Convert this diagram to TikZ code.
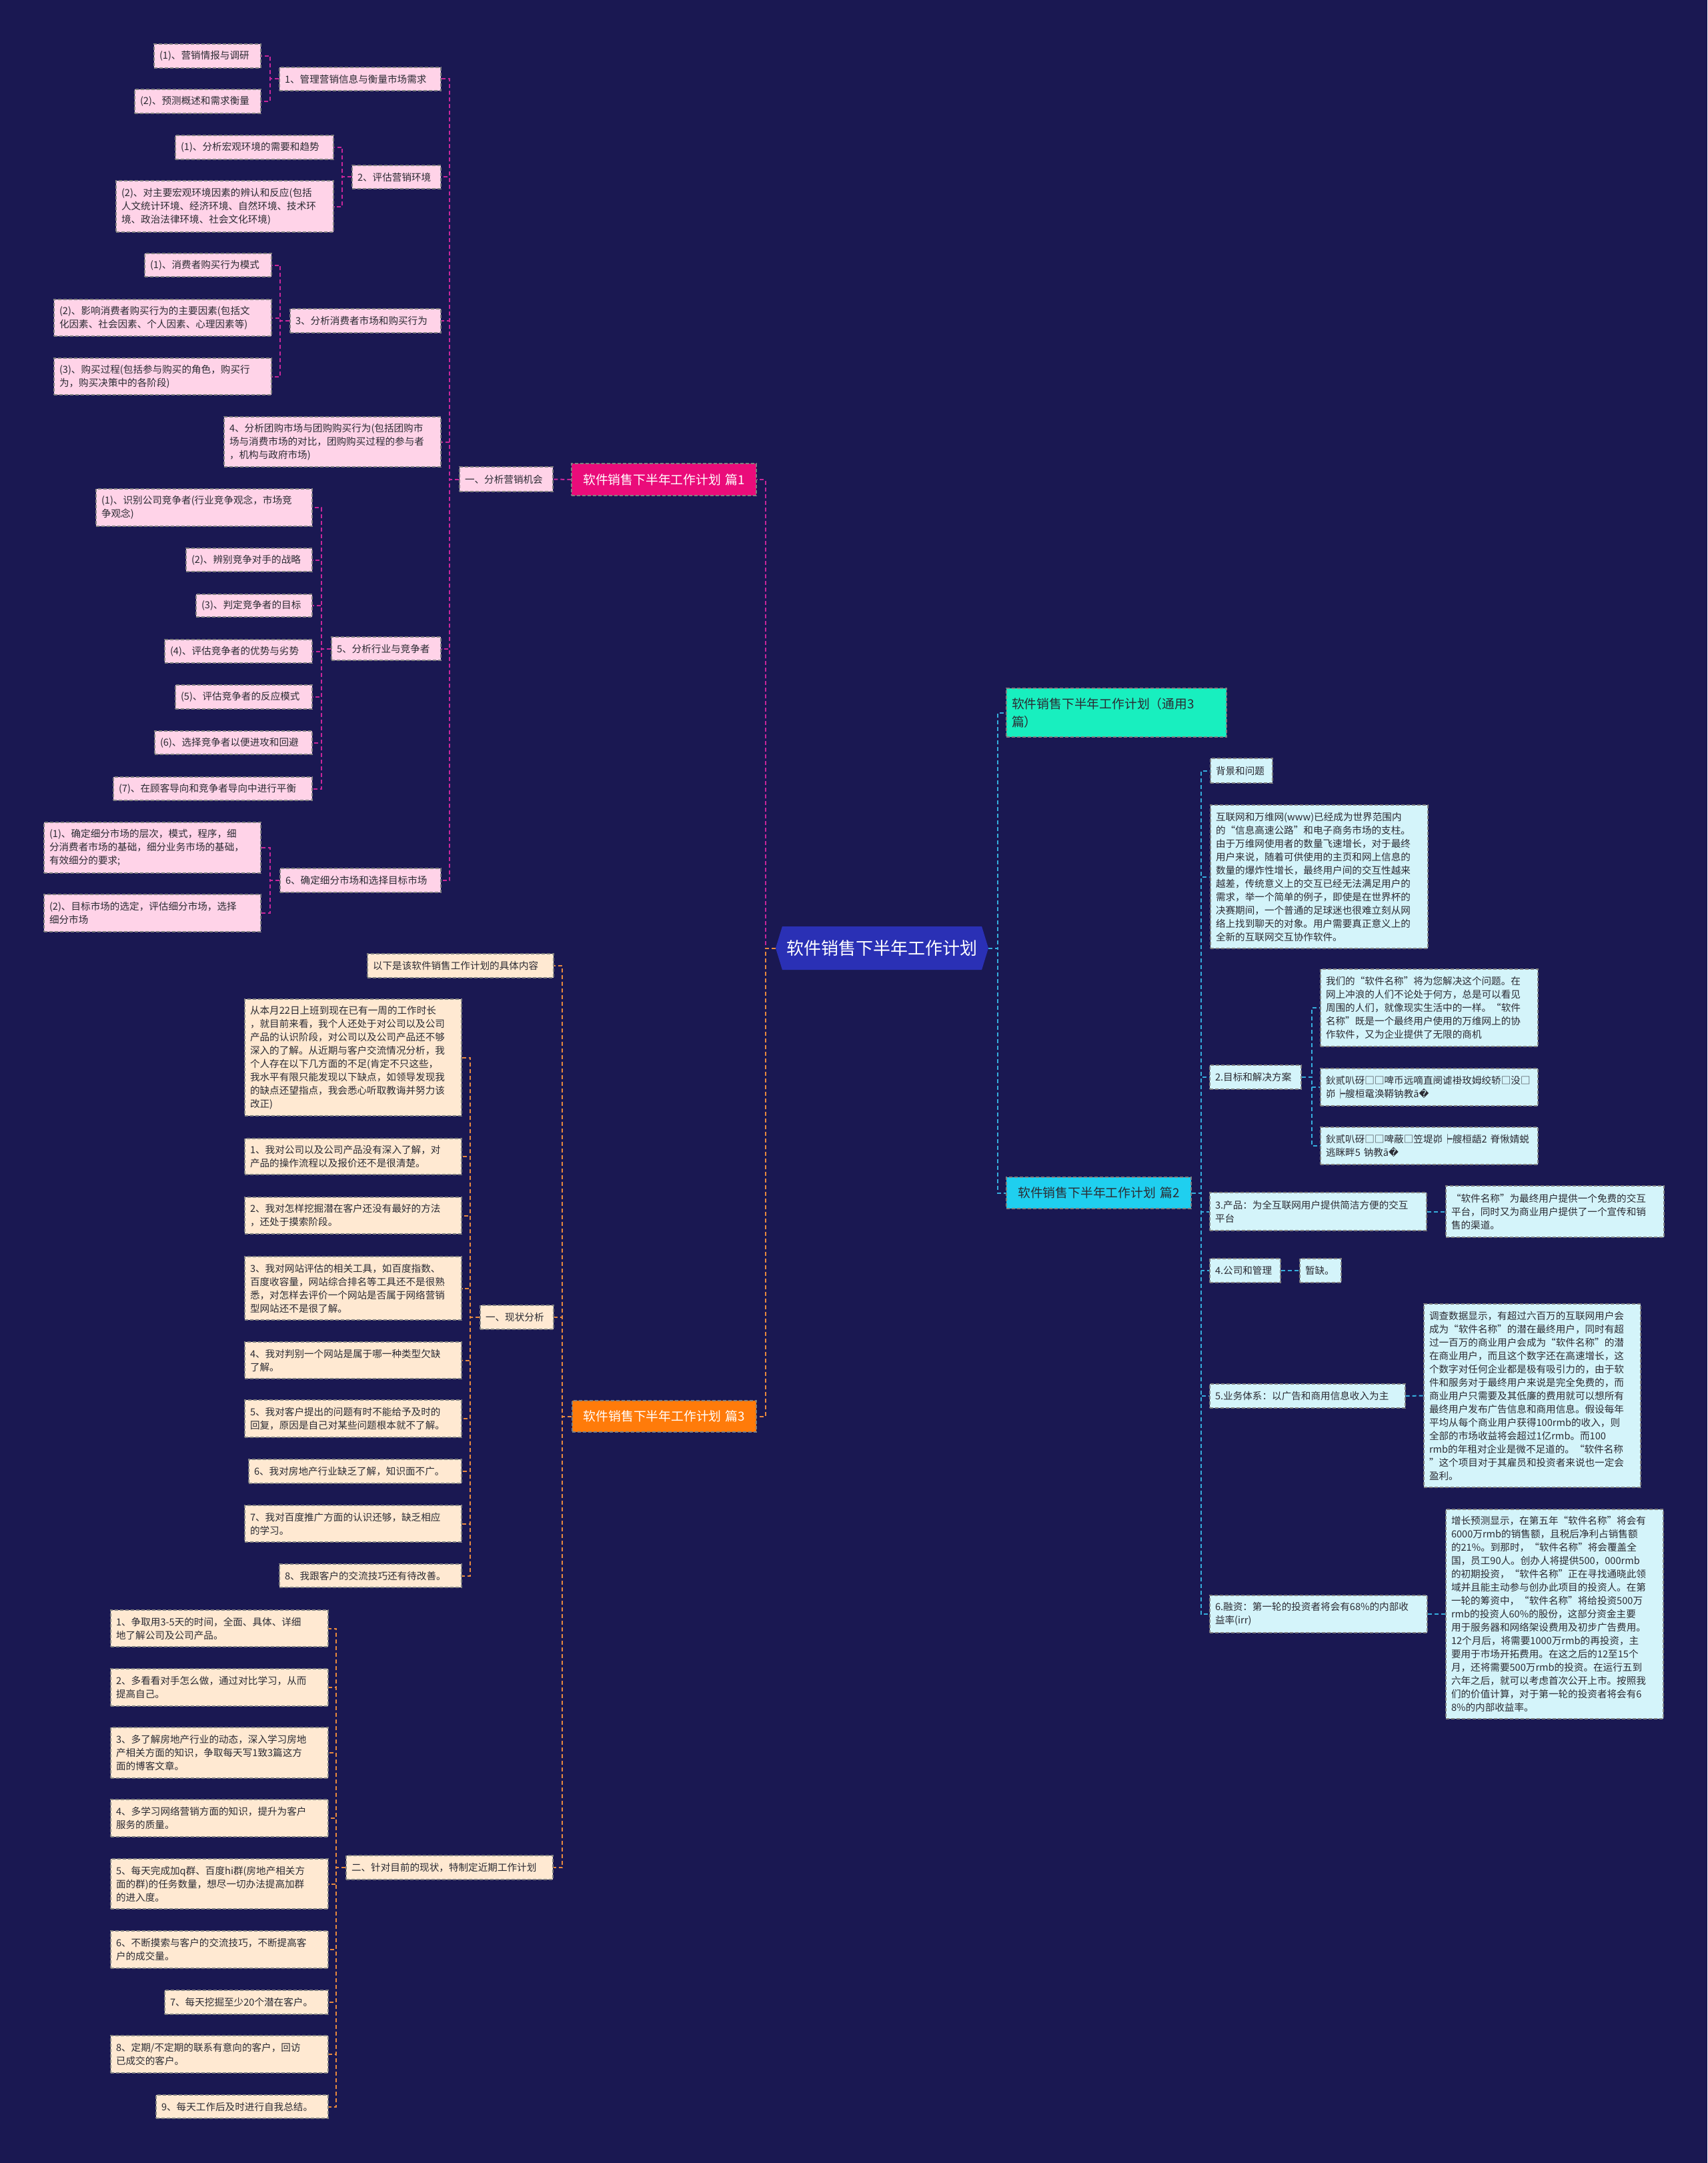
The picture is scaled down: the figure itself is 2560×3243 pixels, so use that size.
\documentclass[tikz,border=0pt]{standalone}
\usepackage{fontspec}
\setmainfont{Noto Sans CJK SC}
\newfontfamily\dejavu{DejaVu Sans}
\usetikzlibrary{shapes.symbols}
\definecolor{bg}{HTML}{1A1852}
\definecolor{pinkT}{HTML}{EA0C7A}
\definecolor{pinkL}{HTML}{FFD3E8}
\definecolor{pinkC}{HTML}{C8269A}
\definecolor{oraT}{HTML}{FF7B0A}
\definecolor{oraL}{HTML}{FFE9D2}
\definecolor{oraC}{HTML}{E98A3E}
\definecolor{grnT}{HTML}{18EFBF}
\definecolor{cyaT}{HTML}{1FCFEF}
\definecolor{cyaL}{HTML}{D4F4FA}
\definecolor{cyaC}{HTML}{35AEDD}
\definecolor{rootC}{HTML}{2A30B5}
\definecolor{txt}{HTML}{2B2B33}
\newcommand\fs{\fontsize{7.3}{10}\selectfont}
\newcommand\fst{\fontsize{9.4}{13.5}\selectfont}
\newcommand\bx[7]{%
  \pgfmathsetmacro\bxw{(#4-#2)*0.5}%
  \pgfmathsetmacro\bxh{(#5-#3)*0.5}%
  \pgfmathsetmacro\bxtw{(#4-#2)*0.5-8}%
  \node[#6, minimum width=\bxw pt, minimum height=\bxh pt, text width=\bxtw pt] (#1) at ({(#2+#4)/2},{(#3+#5)/2}) {#7};}
\tikzset{
  nb/.style={rectangle, draw=black!50, dash pattern=on 2.5pt off 1.5pt, line width=0.6pt, inner xsep=4pt, inner ysep=2pt, align=left, font=\fs, text=txt},
  pbox/.style={nb, fill=pinkL},
  obox/.style={nb, fill=oraL},
  cbox/.style={nb, fill=cyaL},
  ptitle/.style={nb, fill=pinkT, text=white, font=\fst, align=center},
  otitle/.style={nb, fill=oraT, text=white, font=\fst, align=center},
  gtitle/.style={nb, fill=grnT, text=txt, font=\fst, align=left},
  ctitle/.style={nb, fill=cyaT, text=txt, font=\fst, align=center},
  pc/.style={draw=pinkC, line width=1pt, dash pattern=on 3pt off 2pt},
  oc/.style={draw=oraC, line width=1pt, dash pattern=on 3pt off 2pt},
  cc/.style={draw=cyaC, line width=1pt, dash pattern=on 3pt off 2pt}
}
\begin{document}
\begin{tikzpicture}[x=0.5pt,y=-0.5pt]
\fill[bg] (0,0) rectangle (2560,3243);
\useasboundingbox (0,0) rectangle (2560,3243);

% root
\node[signal, signal to=west and east, signal pointer angle=146, fill=rootC, draw=none,
  minimum width=159.5pt, minimum height=32.5pt, inner sep=0pt, text=white,
  font=\fontsize{13}{16}\selectfont] (R) at (1322.5,1421.5) {软件销售下半年工作计划};

% ===== Section 1 =====
\bx{B1}{857}{695}{1134}{743}{ptitle}{软件销售下半年工作计划 篇1}
\bx{L1}{689}{700}{829}{737}{pbox}{一、分析营销机会}
\bx{A1}{419}{101}{661}{136}{pbox}{1、管理营销信息与衡量市场需求}
\bx{A11}{231}{66}{391}{102}{pbox}{(1)、营销情报与调研}
\bx{A12}{202}{134}{391}{170}{pbox}{(2)、预测概述和需求衡量}
\bx{A2}{528}{248}{661}{283}{pbox}{2、评估营销环境}
\bx{A21}{263}{203}{500}{239}{pbox}{(1)、分析宏观环境的需要和趋势}
\bx{A22}{174}{271}{500}{348}{pbox}{(2)、对主要宏观环境因素的辨认和反应(包括\\人文统计环境、经济环境、自然环境、技术环\\境、政治法律环境、社会文化环境)}
\bx{A3}{435}{463}{661}{499}{pbox}{3、分析消费者市场和购买行为}
\bx{A31}{217}{380}{407}{415}{pbox}{(1)、消费者购买行为模式}
\bx{A32}{81}{449}{407}{504}{pbox}{(2)、影响消费者购买行为的主要因素(包括文\\化因素、社会因素、个人因素、心理因素等)}
\bx{A33}{81}{537}{407}{592}{pbox}{(3)、购买过程(包括参与购买的角色，购买行\\为，购买决策中的各阶段)}
\bx{A4}{336}{625}{661}{700}{pbox}{4、分析团购市场与团购购买行为(包括团购市\\场与消费市场的对比，团购购买过程的参与者\\，机构与政府市场)}
\bx{A5}{497}{955}{661}{990}{pbox}{5、分析行业与竞争者}
\bx{A51}{144}{733}{468}{789}{pbox}{(1)、识别公司竞争者(行业竞争观念，市场竞\\争观念)}
\bx{A52}{279}{822}{468}{857}{pbox}{(2)、辨别竞争对手的战略}
\bx{A53}{294}{891}{468}{925}{pbox}{(3)、判定竞争者的目标}
\bx{A54}{247}{959}{468}{994}{pbox}{(4)、评估竞争者的优势与劣势}
\bx{A55}{263}{1027}{468}{1063}{pbox}{(5)、评估竞争者的反应模式}
\bx{A56}{232}{1096}{468}{1131}{pbox}{(6)、选择竞争者以便进攻和回避}
\bx{A57}{170}{1165}{468}{1200}{pbox}{(7)、在顾客导向和竞争者导向中进行平衡}
\bx{A6}{420}{1302}{661}{1338}{pbox}{6、确定细分市场和选择目标市场}
\bx{A61}{66}{1233}{391}{1309}{pbox}{(1)、确定细分市场的层次，模式，程序，细\\分消费者市场的基础，细分业务市场的基础，\\有效细分的要求;}
\bx{A62}{66}{1341}{391}{1397}{pbox}{(2)、目标市场的选定，评估细分市场，选择\\细分市场}

\draw[pc] (R.west) -- ++(-15,0) |- (B1.east);
\draw[pc] (B1.west) -- (L1.east);
\foreach \c in {A1,A2,A3,A4,A5,A6} \draw[pc] (L1.west) -- ++(-14,0) |- (\c.east);
\foreach \c in {A11,A12} \draw[pc] (A1.west) -- ++(-13,0) |- (\c.east);
\foreach \c in {A21,A22} \draw[pc] (A2.west) -- ++(-14,0) |- (\c.east);
\foreach \c in {A31,A32,A33} \draw[pc] (A3.west) -- ++(-14,0) |- (\c.east);
\foreach \c in {A51,A52,A53,A54,A55,A56,A57} \draw[pc] (A5.west) -- ++(-14,0) |- (\c.east);
\foreach \c in {A61,A62} \draw[pc] (A6.west) -- ++(-14,0) |- (\c.east);

% ===== Section 3 =====
\bx{B3}{858}{2100}{1134}{2147}{otitle}{软件销售下半年工作计划 篇3}
\bx{C0}{551}{1430}{830}{1466}{obox}{以下是该软件销售工作计划的具体内容}
\bx{C1}{720}{1957}{830}{1993}{obox}{一、现状分析}
\bx{C11}{367}{1498}{692}{1673}{obox}{从本月22日上班到现在已有一周的工作时长\\，就目前来看，我个人还处于对公司以及公司\\产品的认识阶段，对公司以及公司产品还不够\\深入的了解。从近期与客户交流情况分析，我\\个人存在以下几方面的不足(肯定不只这些，\\我水平有限只能发现以下缺点，如领导发现我\\的缺点还望指点，我会悉心听取教诲并努力该\\改正)}
\bx{C12}{367}{1707}{692}{1761}{obox}{1、我对公司以及公司产品没有深入了解，对\\产品的操作流程以及报价还不是很清楚。}
\bx{C13}{367}{1795}{692}{1850}{obox}{2、我对怎样挖掘潜在客户还没有最好的方法\\，还处于摸索阶段。}
\bx{C14}{367}{1884}{692}{1979}{obox}{3、我对网站评估的相关工具，如百度指数、\\百度收容量，网站综合排名等工具还不是很熟\\悉，对怎样去评价一个网站是否属于网络营销\\型网站还不是很了解。}
\bx{C15}{367}{2012}{692}{2067}{obox}{4、我对判别一个网站是属于哪一种类型欠缺\\了解。}
\bx{C16}{367}{2099}{692}{2155}{obox}{5、我对客户提出的问题有时不能给予及时的\\回复，原因是自己对某些问题根本就不了解。}
\bx{C17}{373}{2188}{692}{2224}{obox}{6、我对房地产行业缺乏了解，知识面不广。}
\bx{C18}{367}{2257}{692}{2312}{obox}{7、我对百度推广方面的认识还够，缺乏相应\\的学习。}
\bx{C19}{419}{2345}{692}{2380}{obox}{8、我跟客户的交流技巧还有待改善。}
\bx{D}{519}{2782}{829}{2818}{obox}{二、针对目前的现状，特制定近期工作计划}
\bx{D1}{166}{2414}{492}{2469}{obox}{1、争取用3-5天的时间，全面、具体、详细\\地了解公司及公司产品。}
\bx{D2}{166}{2502}{492}{2558}{obox}{2、多看看对手怎么做，通过对比学习，从而\\提高自己。}
\bx{D3}{166}{2590}{492}{2666}{obox}{3、多了解房地产行业的动态，深入学习房地\\产相关方面的知识，争取每天写1致3篇这方\\面的博客文章。}
\bx{D4}{166}{2698}{492}{2754}{obox}{4、多学习网络营销方面的知识，提升为客户\\服务的质量。}
\bx{D5}{166}{2787}{492}{2862}{obox}{5、每天完成加q群、百度hi群(房地产相关方\\面的群)的任务数量，想尽一切办法提高加群\\的进入度。}
\bx{D6}{166}{2895}{492}{2951}{obox}{6、不断摸索与客户的交流技巧，不断提高客\\户的成交量。}
\bx{D7}{247}{2984}{492}{3020}{obox}{7、每天挖掘至少20个潜在客户。}
\bx{D8}{166}{3052}{492}{3108}{obox}{8、定期/不定期的联系有意向的客户，回访\\已成交的客户。}
\bx{D9}{234}{3141}{492}{3176}{obox}{9、每天工作后及时进行自我总结。}

\draw[oc] (R.west) -- ++(-15,0) |- (B3.east);
\foreach \c in {C0,C1,D} \draw[oc] (B3.west) -- ++(-14,0) |- (\c.east);
\foreach \c in {C11,C12,C13,C14,C15,C16,C17,C18,C19} \draw[oc] (C1.west) -- ++(-14,0) |- (\c.east);
\foreach \c in {D1,D2,D3,D4,D5,D6,D7,D8,D9} \draw[oc] (D.west) -- ++(-14,0) |- (\c.east);

% ===== Section 2 =====
\bx{E0}{1509}{1032}{1839}{1105}{gtitle}{软件销售下半年工作计划（通用3\\篇）}
\bx{B2}{1509}{1765}{1786}{1812}{ctitle}{软件销售下半年工作计划 篇2}
\bx{F0}{1815}{1137}{1908}{1174}{cbox}{背景和问题}
\bx{F1}{1815}{1207}{2141}{1422}{cbox}{互联网和万维网(www)已经成为世界范围内\\的“信息高速公路”和电子商务市场的支柱。\\由于万维网使用者的数量飞速增长，对于最终\\用户来说，随着可供使用的主页和网上信息的\\数量的爆炸性增长，最终用户间的交互性越来\\越差，传统意义上的交互已经无法满足用户的\\需求，举一个简单的例子，即使是在世界杯的\\决赛期间，一个普通的足球迷也很难立刻从网\\络上找到聊天的对象。用户需要真正意义上的\\全新的互联网交互协作软件。}
\bx{F2}{1814}{1597}{1951}{1633}{cbox}{2.目标和解决方案}
\bx{F21}{1980}{1453}{2306}{1569}{cbox}{我们的“软件名称”将为您解决这个问题。在\\网上冲浪的人们不论处于何方，总是可以看见\\周围的人们，就像现实生活中的一样。“软件\\名称”既是一个最终用户使用的万维网上的协\\作软件，又为企业提供了无限的商机}
\bx{F22}{1980}{1602}{2306}{1658}{cbox}{鈥贰叭砑□□啤币远嘀直阌谑褂玫姆绞轿□没□\\峁┝艘桓鼋涣鞯钠教ā{\dejavu �}}
\bx{F23}{1980}{1690}{2306}{1746}{cbox}{鈥贰叭砑□□啤蔽□笠堤峁┝艘桓龉2 脊愀婧蜕\\逃眯畔5 钠教ā{\dejavu �}}
\bx{F3}{1814}{1788}{2139}{1845}{cbox}{3.产品：为全互联网用户提供简洁方便的交互\\平台}
\bx{F31}{2168}{1778}{2495}{1855}{cbox}{“软件名称”为最终用户提供一个免费的交互\\平台，同时又为商业用户提供了一个宣传和销\\售的渠道。}
\bx{F4}{1814}{1887}{1920}{1923}{cbox}{4.公司和管理}
\bx{F41}{1949}{1887}{2011}{1923}{cbox}{暂缺。}
\bx{F5}{1814}{2075}{2107}{2111}{cbox}{5.业务体系：以广告和商用信息收入为主}
\bx{F51}{2135}{1955}{2460}{2230}{cbox}{调查数据显示，有超过六百万的互联网用户会\\成为“软件名称”的潜在最终用户，同时有超\\过一百万的商业用户会成为“软件名称”的潜\\在商业用户，而且这个数字还在高速增长，这\\个数字对任何企业都是极有吸引力的，由于软\\件和服务对于最终用户来说是完全免费的，而\\商业用户只需要及其低廉的费用就可以想所有\\最终用户发布广告信息和商用信息。假设每年\\平均从每个商业用户获得100rmb的收入，则\\全部的市场收益将会超过1亿rmb。而100\\rmb的年租对企业是微不足道的。“软件名称\\”这个项目对于其雇员和投资者来说也一定会\\盈利。}
\bx{F6}{1814}{2392}{2140}{2448}{cbox}{6.融资：第一轮的投资者将会有68\%的内部收\\益率(irr)}
\bx{F61}{2168}{2263}{2494}{2577}{cbox}{增长预测显示，在第五年“软件名称”将会有\\6000万rmb的销售额，且税后净利占销售额\\的21\%。到那时，“软件名称”将会覆盖全\\国，员工90人。创办人将提供500，000rmb\\的初期投资，“软件名称”正在寻找通晓此领\\域并且能主动参与创办此项目的投资人。在第\\一轮的筹资中，“软件名称”将给投资500万\\rmb的投资人60\%的股份，这部分资金主要\\用于服务器和网络架设费用及初步广告费用。\\12个月后，将需要1000万rmb的再投资，主\\要用于市场开拓费用。在这之后的12至15个\\月，还将需要500万rmb的投资。在运行五到\\六年之后，就可以考虑首次公开上市。按照我\\们的价值计算，对于第一轮的投资者将会有6\\8\%的内部收益率。}

\draw[cc] (R.east) -- ++(14,0) |- (E0.west);
\draw[cc] (R.east) -- ++(14,0) |- (B2.west);
\foreach \c in {F0,F1,F2,F3,F4,F5,F6} \draw[cc] (B2.east) -- ++(14,0) |- (\c.west);
\foreach \c in {F21,F22,F23} \draw[cc] (F2.east) -- ++(15,0) |- (\c.west);
\draw[cc] (F3.east) -- (F31.west);
\draw[cc] (F4.east) -- (F41.west);
\draw[cc] (F5.east) -- (F51.west);
\draw[cc] (F6.east) -- (F61.west);
\end{tikzpicture}
\end{document}
